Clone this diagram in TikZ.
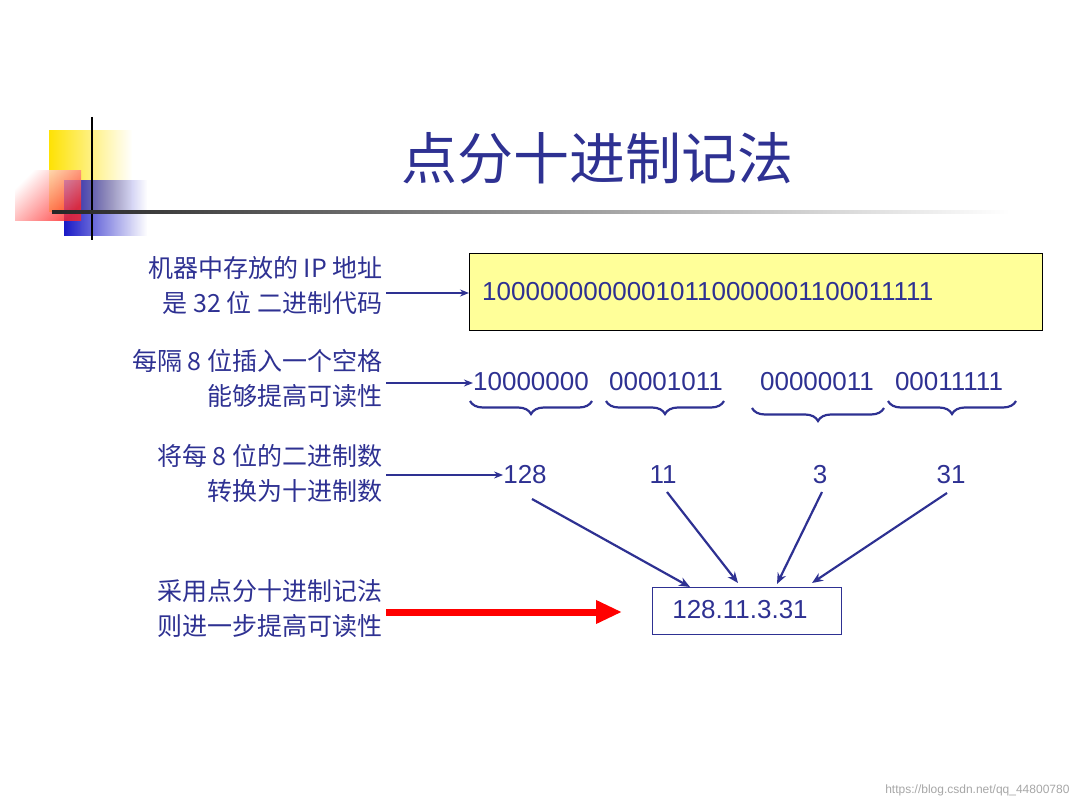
\documentclass[tikz,border=0pt]{standalone}
\usepackage{fontspec}
\setmainfont{Liberation Sans}
\newfontfamily\cjk{Noto Sans CJK SC}
\usetikzlibrary{decorations.pathreplacing,fadings,arrows.meta}
\definecolor{slideblue}{HTML}{2E3192}
\definecolor{boxyellow}{HTML}{FFFF99}
\tikzset{
    side-label/.style = {anchor=east, align=right, text=slideblue, font=\cjk\fontsize{25}{35}\selectfont},
    num-text/.style = {text=slideblue, font=\fontsize{26}{30}\selectfont, inner sep=0pt},
    to-right/.style = {draw=slideblue, line width=2.2pt, -{Stealth[length=9pt,width=7pt]}},
    to-sum/.style = {draw=slideblue, line width=2.2pt, -{Stealth[length=11pt,width=9pt]}},
    group-brace/.style = {draw=slideblue, line width=2.2pt, decorate, decoration={brace, mirror, amplitude=13pt}},
}

\begin{document}
\begin{tikzpicture}[x=1pt, y=-1pt]
\useasboundingbox (0,0) rectangle (1080,810);
% corner decoration
\fill[yellow!85!orange, path fading=east] (49,130) rectangle (132,212);
\fill[blue!75!black!90, path fading=east] (64,180) rectangle (147,236);
\shade[opacity=0.8, left color=white, right color=red!85, shading angle=45] (15,171) rectangle (81,221);
\draw[black, line width=2.5pt] (92,117) -- (92,240);
\shade[left color=black!85, right color=white] (52,210.5) rectangle (1010,214);
% title
\node[text=slideblue, font=\cjk\fontsize{56}{60}\selectfont] (title) at (597,158) {点分十进制记法};
% labels
\node[side-label] (lab-a) at (386,285) {机器中存放的 IP 地址\\是 32 位 二进制代码};
\node[side-label] (lab-b) at (386,378) {每隔 8 位插入一个空格\\能够提高可读性};
\node[side-label] (lab-c) at (386,473) {将每 8 位的二进制数\\转换为十进制数};
\node[side-label] (lab-d) at (386,609) {采用点分十进制记法\\则进一步提高可读性};
% binary address
\node[draw=black, fill=boxyellow, minimum width=573pt, minimum height=77pt, anchor=north west] (bits) at (469,253) {};
\node[num-text, anchor=west] (bits-text) at (482,292) {10000000000010110000001100011111};
\node[num-text] (byte-a) at (531,382) {10000000};
\node[num-text] (byte-b) at (666,382) {00001011};
\node[num-text] (byte-c) at (817,382) {00000011};
\node[num-text] (byte-d) at (949,382) {00011111};
\draw[group-brace] (470,401) -- (592,401);
\draw[group-brace] (606,401) -- (724,401);
\draw[group-brace] (752,408) -- (884,408);
\draw[group-brace] (888,401) -- (1016,401);
% decimals
\node[num-text] (dec-a) at (525,475) {128};
\node[num-text] (dec-b) at (663,475) {11};
\node[num-text] (dec-c) at (820,475) {3};
\node[num-text] (dec-d) at (951,475) {31};
\node[draw=slideblue, thick, minimum width=189pt, minimum height=47pt, anchor=north west, inner sep=0pt] (dotted) at (652,587) {};
\node[num-text] (dotted-text) at (740,610) {128.11.3.31};
\coordinate (in-a) at (690,587);
\coordinate (in-b) at (738,583);
\coordinate (in-c) at (777,584);
\coordinate (in-d) at (812,583);
% arrows
\draw[to-right] (lab-a.east |- 0,293) -- (bits.west |- 0,293);
\draw[to-right] (lab-b.east |- 0,383) -- (byte-a.west |- 0,383);
\draw[to-right] (lab-c.east |- 0,475) -- (dec-a.west |- 0,475);
\draw[to-sum] (532,499) -- (in-a);
\draw[to-sum] (667,492) -- (in-b);
\draw[to-sum] (822,492) -- (in-c);
\draw[to-sum] (947,493) -- (in-d);
\draw[red, line width=7pt, -{Triangle[length=26pt,width=22pt]}] (lab-d.east |- 0,612) -- (622,612);
% watermark
\node[anchor=east, text=black!35, font=\fontsize{12}{14}\selectfont] (mark) at (1073,790) {https://blog.csdn.net/qq\_44800780};
\end{tikzpicture}
\end{document}
